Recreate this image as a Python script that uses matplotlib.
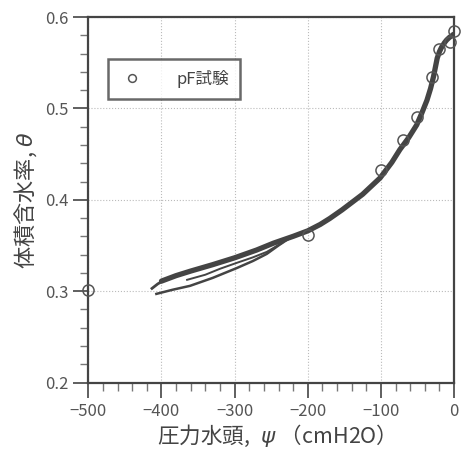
import matplotlib
matplotlib.use("Agg")
import matplotlib.pyplot as plt
from matplotlib.ticker import MultipleLocator

plt.rcParams['font.family'] = ['Noto Sans CJK JP', 'DejaVu Sans']

# pF test points
pf_psi = [-500, -200, -100, -70, -50, -30, -20, -5, 0]
pf_theta = [0.301, 0.362, 0.433, 0.465, 0.491, 0.534, 0.565, 0.573, 0.585]

# simulated psi-theta paths
main_psi = [-400, -380, -360, -330, -300, -270, -247, -220, -200, -183, -170, -153,
            -125, -101, -85, -74, -62, -51, -44, -37, -32, -28, -25, -23, -20, -17,
            -13, -10, -6, -3, -1]
main_theta = [0.311, 0.317, 0.322, 0.329, 0.3365, 0.345, 0.3525, 0.360, 0.366, 0.373,
              0.3795, 0.389, 0.406, 0.424, 0.441, 0.455, 0.468, 0.482, 0.495, 0.509,
              0.522, 0.535, 0.547, 0.555, 0.562, 0.567, 0.572, 0.575, 0.578, 0.5795, 0.581]

upper_psi = [-413, -405, -397, -380, -361, -330, -297, -270, -247]
upper_theta = [0.303, 0.308, 0.3116, 0.317, 0.3214, 0.329, 0.3372, 0.345, 0.3525]

lower_psi = [-407, -385, -361, -330, -297, -275, -256, -240, -225]
lower_theta = [0.297, 0.3015, 0.3058, 0.3145, 0.3253, 0.333, 0.3408, 0.350, 0.358]

inner_psi = [-365, -340, -320, -297, -275, -256, -235]
inner_theta = [0.3124, 0.318, 0.3245, 0.331, 0.337, 0.343, 0.353]

dark = '#444444'

fig = plt.figure(figsize=(4.7, 4.5), dpi=100)
ax = fig.add_axes([0.188, 0.15, 0.778, 0.812])

ax.plot(main_psi, main_theta, color=dark, lw=3.8, solid_capstyle='round',
        solid_joinstyle='round', zorder=3)
ax.plot(upper_psi, upper_theta, color=dark, lw=2, solid_joinstyle='round', zorder=3)
ax.plot(lower_psi, lower_theta, color=dark, lw=1.8, solid_joinstyle='round', zorder=3)
ax.plot(inner_psi, inner_theta, color=dark, lw=1.4, solid_joinstyle='round', zorder=3)
ax.plot(pf_psi, pf_theta, ls='none', marker='o', ms=8, mfc='none', mec='#555555',
        mew=1.1, label='pF試験', zorder=4, clip_on=False)

ax.set_xlim(-500, 0)
ax.set_ylim(0.2, 0.6)
ax.xaxis.set_major_locator(MultipleLocator(100))
ax.xaxis.set_minor_locator(MultipleLocator(20))
ax.yaxis.set_major_locator(MultipleLocator(0.1))
ax.yaxis.set_minor_locator(MultipleLocator(0.02))
ax.tick_params(which='major', direction='out', length=11, width=1.2, color=dark,
               labelsize=12, labelcolor='#555555')
ax.tick_params(which='minor', direction='out', length=6, width=1, color='#777777')
ax.grid(True, which='major', ls=':', color='#bbbbbb', lw=0.8)

for s in ax.spines.values():
    s.set_color(dark)
    s.set_linewidth(1.6)

ax.set_xlabel('圧力水頭, $\\ \\psi$ （cmH2O）', fontsize=15.5, color=dark, labelpad=2)
ax.set_ylabel('体積含水率, $\\theta$', fontsize=16, color=dark, labelpad=4)

leg = ax.legend(loc='upper left', bbox_to_anchor=(0.053, 0.884), frameon=True, fancybox=False,
                fontsize=12, borderpad=0.65, handletextpad=1.9, markerscale=0.7,
                borderaxespad=0, handlelength=1.6)
leg.get_frame().set_edgecolor(dark)
leg.get_frame().set_linewidth(1.8)
for t in leg.get_texts():
    t.set_color(dark)

fig.savefig('out.png', dpi=100)
